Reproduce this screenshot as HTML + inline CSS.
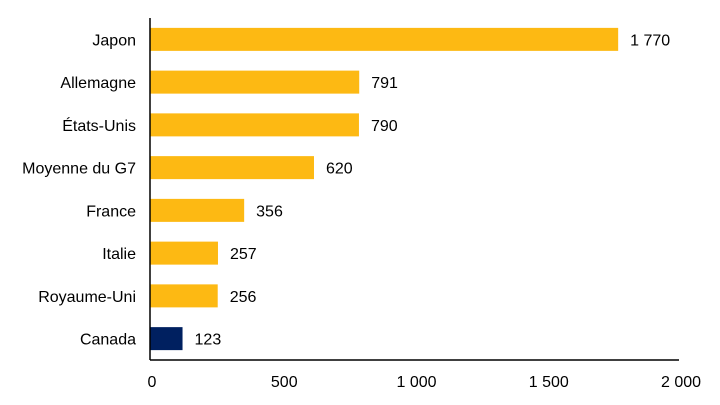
<!DOCTYPE html>
<html><head><meta charset="utf-8"><style>
body{margin:0;background:#fff}
svg text{font-family:"Liberation Sans",sans-serif;font-size:16px;fill:#000}
</style></head><body>
<svg width="720" height="400" id="chart"></svg>
<script>
const categories=["Japon","Allemagne","États-Unis","Moyenne du G7","France","Italie","Royaume-Uni","Canada"];
const values=[1770,791,790,620,356,257,256,123];
const labels=["1 770","791","790","620","356","257","256","123"];
const ticks=[0,500,1000,1500,2000];
const tickLabels=["0","500","1 000","1 500","2 000"];
const NS="http://www.w3.org/2000/svg";
const svg=document.getElementById("chart");
const x0=150,x1=679,yTop=18,yBot=360;
const xs=v=>x0+(v-0)/(2000-0)*(x1-x0);
const step=(yBot-yTop)/categories.length;
const yc=i=>yTop+step*(i+0.5);
function mk(t,a){const e=document.createElementNS(NS,t);for(const k in a)e.setAttribute(k,a[k]);svg.appendChild(e);return e;}
categories.forEach((c,i)=>{
  const r=mk("rect",{x:x0,y:yc(i)-11.5,width:xs(values[i])-x0,height:23,fill:c==="Canada"?"#002060":"#FDB913"});
  
  
  const l=mk("text",{x:136,y:yc(i)+6,"text-anchor":"end"});l.textContent=c;
  
  
  const v=mk("text",{x:xs(values[i])+12,y:yc(i)+6});v.textContent=labels[i];
  
  
});
ticks.forEach((t,i)=>{
  const e=mk("text",{x:xs(t)+2,y:387,"text-anchor":"middle"});e.textContent=tickLabels[i];
  
  
});
const ay=mk("line",{x1:x0,y1:yTop,x2:x0,y2:yBot,stroke:"#000","stroke-width":1.5});


const ax=mk("line",{x1:x0,y1:yBot,x2:x1,y2:yBot,stroke:"#000","stroke-width":1.5});


</script>
</body></html>
